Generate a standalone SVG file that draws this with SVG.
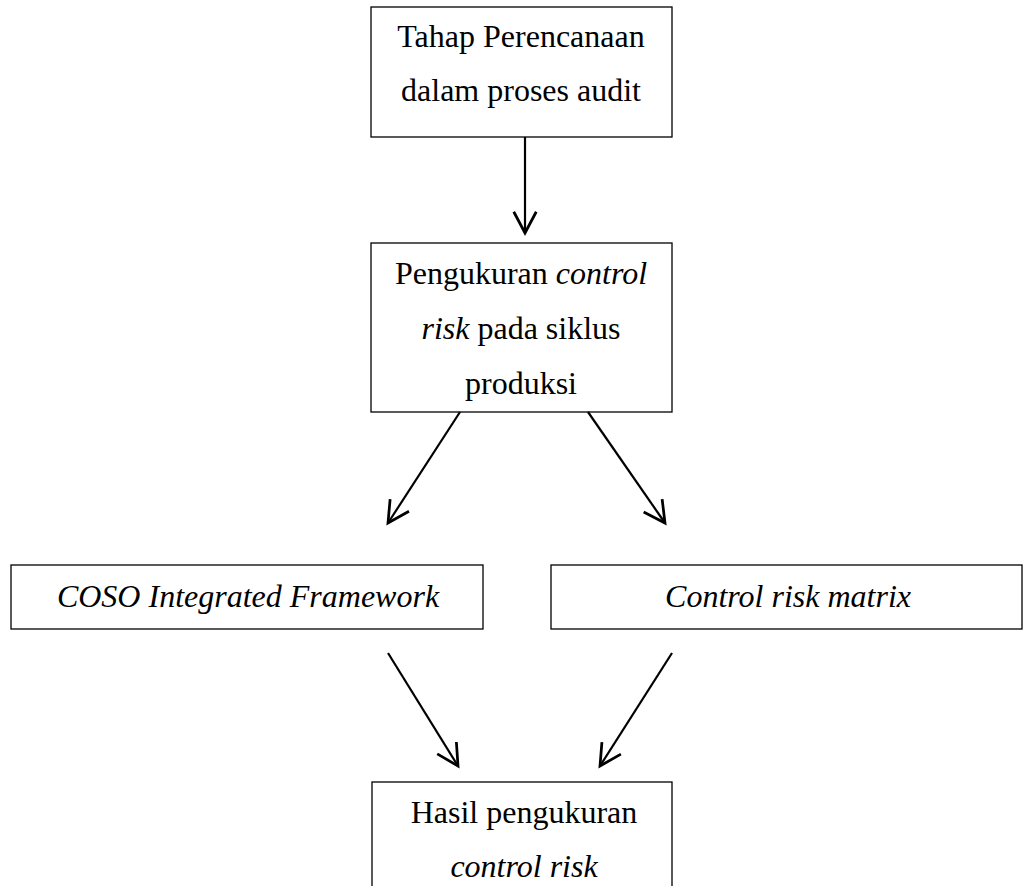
<svg xmlns="http://www.w3.org/2000/svg" width="1025" height="886" viewBox="0 0 1025 886">
<style>
.box{fill:#fff;stroke:#000;stroke-width:1.3}
.t{font-family:"Liberation Serif","Times New Roman",serif;font-size:32px;fill:#000;text-anchor:middle}
.i{font-style:italic}
.c{fill:none;stroke:#000;stroke-width:2.2}
</style>
<defs>
<marker id="ah" markerUnits="userSpaceOnUse" markerWidth="30" markerHeight="30" viewBox="-20 -12 24 24" refX="0" refY="0" orient="auto">
<path d="M-17,-9 L0,0 L-17,9" fill="none" stroke="#000" stroke-width="2.2"/>
</marker>
</defs>
<rect width="1025" height="886" fill="#fff"/>
<g id="n1">
<rect class="box" x="371" y="7" width="301" height="130"/>
<text class="t" x="521" y="47">Tahap Perencanaan</text>
<text class="t" x="521" y="101">dalam proses audit</text>
</g>
<g id="n2">
<rect class="box" x="371" y="243" width="301" height="169"/>
<text class="t" x="521" y="284">Pengukuran <tspan class="i">control</tspan></text>
<text class="t" x="521" y="339"><tspan class="i">risk</tspan> pada siklus</text>
<text class="t" x="521" y="394">produksi</text>
</g>
<g id="n3">
<rect class="box" x="11" y="565" width="472" height="64"/>
<text class="t i" x="248" y="607">COSO Integrated Framework</text>
</g>
<g id="n4">
<rect class="box" x="551" y="565" width="471" height="64"/>
<text class="t i" x="788" y="607">Control risk matrix</text>
</g>
<g id="n5">
<rect class="box" x="372" y="782" width="300" height="120"/>
<text class="t" x="524" y="823">Hasil pengukuran</text>
<text class="t i" x="524" y="877">control risk</text>
</g>
<g id="connectors">
<line class="c" x1="525" y1="137" x2="525" y2="233" marker-end="url(#ah)"/>
<line class="c" x1="460" y1="412" x2="388" y2="523" marker-end="url(#ah)"/>
<line class="c" x1="588" y1="412" x2="665" y2="523" marker-end="url(#ah)"/>
<line class="c" x1="388" y1="653" x2="458" y2="766" marker-end="url(#ah)"/>
<line class="c" x1="672" y1="653" x2="600" y2="766" marker-end="url(#ah)"/>
</g>
</svg>
